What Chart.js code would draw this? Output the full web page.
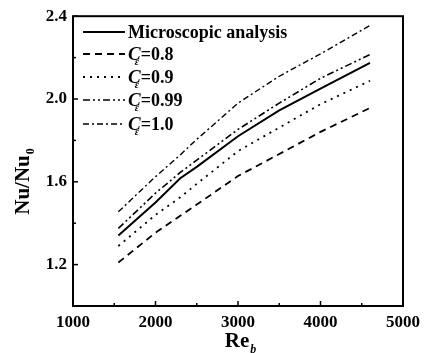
<!DOCTYPE html>
<html><head><meta charset="utf-8">
<script src="https://cdn.jsdelivr.net/npm/chart.js@4.4.0/dist/chart.umd.min.js"></script>
<style>html,body{margin:0;padding:0;background:#fff}#wrap{width:426px;height:353px}</style>
</head><body><div id="wrap"><canvas id="c" width="426" height="353"></canvas></div>
<script>
const reValues   = [1550, 2000, 2300, 2500, 3000, 3500, 4000, 4600];
const micro      = [1.340, 1.500, 1.617, 1.672, 1.820, 1.945, 2.050, 2.175];
const c080       = [1.210, 1.354, 1.436, 1.490, 1.628, 1.734, 1.841, 1.957];
const c090       = [1.290, 1.440, 1.525, 1.590, 1.748, 1.862, 1.975, 2.088];
const c099       = [1.375, 1.545, 1.645, 1.705, 1.853, 1.980, 2.100, 2.215];
const c100       = [1.455, 1.625, 1.730, 1.805, 1.980, 2.110, 2.218, 2.355];
const seriesNames = ['Microscopic analysis', '0.8', '0.9', '0.99', '1.0'];
const xTickLabels = ['1000', '2000', '3000', '4000', '5000'];
const yTickLabels = ['1.2', '1.6', '2.0', '2.4'];

const dashes = [[], [7, 5], [2, 5], [7, 3, 2, 3, 2, 3], [6, 3, 2, 3]];
const widths = [2, 1.8, 1.8, 1.6, 1.4];
const allSeries = [micro, c080, c090, c099, c100];

const datasets = allSeries.map((s, i) => ({
  label: seriesNames[i],
  data: reValues.map((x, j) => ({x: x, y: s[j]})),
  borderColor: '#000',
  borderWidth: widths[i],
  borderDash: dashes[i],
  pointRadius: 0,
  tension: 0,
  fill: false
}));

const SERIF = '"Liberation Serif","DejaVu Serif",serif';

const decor = {
  id: 'decor',
  afterDraw(chart) {
    const ctx = chart.ctx;
    const a = chart.chartArea;
    const xs = chart.scales.x, ys = chart.scales.y;
    ctx.save();
    ctx.strokeStyle = '#000';
    ctx.lineWidth = 2;
    ctx.strokeRect(a.left, a.top, a.right - a.left, a.bottom - a.top);
    ctx.lineWidth = 1.5;
    xs.ticks.forEach(t => {
      const px = xs.getPixelForValue(t.value);
      const major = xTickLabels.includes(String(Math.round(t.value)));
      ctx.beginPath(); ctx.moveTo(px, a.bottom); ctx.lineTo(px, a.bottom - (major ? 5 : 3)); ctx.stroke();
    });
    ys.ticks.forEach(t => {
      const py = ys.getPixelForValue(t.value);
      const major = yTickLabels.includes(t.value.toFixed(1));
      ctx.beginPath(); ctx.moveTo(a.left, py); ctx.lineTo(a.left + (major ? 5 : 3), py); ctx.stroke();
    });
    ctx.fillStyle = '#000';
    const rows = [32, 54, 77, 100, 124];
    chart.data.datasets.forEach((ds, i) => {
      const y = rows[i];
      ctx.lineWidth = ds.borderWidth;
      ctx.setLineDash(ds.borderDash);
      ctx.beginPath(); ctx.moveTo(83, y); ctx.lineTo(125, y); ctx.stroke();
      ctx.setLineDash([]);
      ctx.textBaseline = 'alphabetic';
      ctx.textAlign = 'left';
      const base = y + 6;
      if (i === 0) {
        ctx.font = 'bold 18px ' + SERIF;
        ctx.fillText(ds.label, 128, base);
      } else {
        ctx.font = 'italic bold 19px ' + SERIF;
        ctx.fillText('C', 128, base);
        const cw = ctx.measureText('C').width;
        ctx.font = 'italic bold 10px ' + SERIF;
        ctx.fillText('ε', 128 + cw - 6, base + 5);
        ctx.font = 'bold 18px ' + SERIF;
        ctx.fillText('=' + ds.label, 128 + cw, base);
      }
    });
    ctx.font = 'bold 21px ' + SERIF;
    const reW = ctx.measureText('Re').width;
    ctx.font = 'italic bold 12px ' + SERIF;
    const bW = ctx.measureText('b').width;
    const xStart = 240 - (reW + bW) / 2;
    ctx.font = 'bold 21px ' + SERIF;
    ctx.fillText('Re', xStart, 347);
    ctx.font = 'italic bold 12px ' + SERIF;
    ctx.fillText('b', xStart + reW + 1, 353);
    ctx.translate(29, 182);
    ctx.rotate(-Math.PI / 2);
    ctx.font = 'bold 21px ' + SERIF;
    const nW = ctx.measureText('Nu/Nu').width;
    ctx.font = 'bold 12px ' + SERIF;
    const zW = ctx.measureText('0').width;
    const s0 = -(nW + zW) / 2;
    ctx.font = 'bold 21px ' + SERIF;
    ctx.fillText('Nu/Nu', s0, 0);
    ctx.font = 'bold 12px ' + SERIF;
    ctx.fillText('0', s0 + nW + 1, 5);
    ctx.restore();
  }
};

new Chart(document.getElementById('c'), {
  type: 'line',
  data: { datasets },
  options: {
    responsive: false,
    animation: false,
    devicePixelRatio: 1,
    layout: { padding: { left: 0, right: 20, top: 16, bottom: 0 } },
    plugins: { legend: { display: false }, tooltip: { enabled: false } },
    scales: {
      x: {
        type: 'linear', min: 1000, max: 5000,
        grid: { display: false, drawTicks: false },
        border: { display: false },
        ticks: {
          stepSize: 500, autoSkip: false, maxRotation: 0, padding: 6,
          color: '#000', font: { family: SERIF, size: 17, weight: 'bold' },
          callback: v => xTickLabels.includes(String(Math.round(v))) ? String(Math.round(v)) : ''
        },
        afterFit: s => { s.height = 47; }
      },
      y: {
        type: 'linear', min: 1.0, max: 2.4,
        grid: { display: false, drawTicks: false },
        border: { display: false },
        ticks: {
          stepSize: 0.2, autoSkip: false, padding: 6,
          color: '#000', font: { family: SERIF, size: 17, weight: 'bold' },
          callback: v => yTickLabels.includes(v.toFixed(1)) ? v.toFixed(1) : ''
        },
        afterFit: s => { s.width = 73; }
      }
    }
  },
  plugins: [decor]
});
</script></body></html>
